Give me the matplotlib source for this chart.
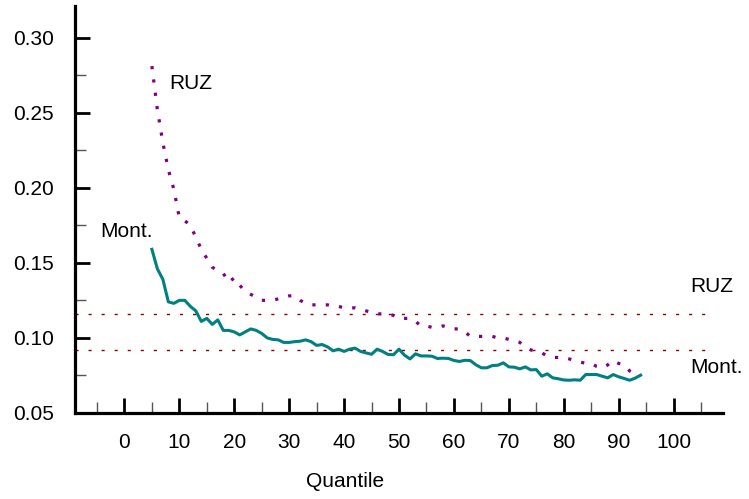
import numpy as np
import matplotlib
matplotlib.use("Agg")
import matplotlib.pyplot as plt
from matplotlib.ticker import MultipleLocator

plt.rcParams['font.family'] = ['Liberation Sans', 'DejaVu Sans']

quantile = list(range(5, 95))

mont = [0.159, 0.146, 0.139, 0.124, 0.123, 0.125, 0.125, 0.121, 0.118, 0.111,
        0.113, 0.109, 0.112, 0.105, 0.105, 0.104, 0.102, 0.104, 0.106, 0.105,
        0.103, 0.100, 0.099, 0.0987, 0.097, 0.097, 0.0975, 0.0978, 0.0987, 0.0975,
        0.095, 0.0956, 0.094, 0.0914, 0.0925, 0.091, 0.0925, 0.0932, 0.091, 0.090,
        0.0891, 0.0925, 0.091, 0.089, 0.0888, 0.0925, 0.0885, 0.086, 0.0894, 0.088,
        0.088, 0.0878, 0.0863, 0.0865, 0.0863, 0.085, 0.0843, 0.0851, 0.0849, 0.0821,
        0.0801, 0.0801, 0.0816, 0.0818, 0.0834, 0.0807, 0.0805, 0.0794, 0.0807, 0.0787,
        0.0789, 0.0745, 0.0761, 0.0734, 0.0728, 0.072, 0.0718, 0.0721, 0.0718, 0.0756,
        0.0756, 0.0756, 0.0745, 0.0734, 0.0756, 0.0741, 0.073, 0.0718, 0.0732, 0.0752]

ruz = [0.281, 0.252, 0.230, 0.212, 0.199, 0.180, 0.178, 0.175, 0.167, 0.159,
       0.153, 0.147, 0.145, 0.143, 0.137, 0.140, 0.135, 0.131, 0.129, 0.127,
       0.125, 0.125, 0.125, 0.126, 0.127, 0.128, 0.128, 0.125, 0.123, 0.122,
       0.122, 0.122, 0.122, 0.121, 0.121, 0.120, 0.120, 0.120, 0.119, 0.118,
       0.117, 0.116, 0.116, 0.116, 0.115, 0.113, 0.113, 0.113, 0.111, 0.108,
       0.108, 0.107, 0.107, 0.108, 0.107, 0.106, 0.106, 0.104, 0.101, 0.101,
       0.101, 0.101, 0.101, 0.100, 0.100, 0.099, 0.098, 0.097, 0.094, 0.092,
       0.091, 0.090, 0.088, 0.087, 0.087, 0.087, 0.086, 0.085, 0.084, 0.083,
       0.083, 0.081, 0.080, 0.082, 0.085, 0.083, 0.082, 0.078, 0.076, 0.075]

ref_ruz = 0.116
ref_mont = 0.092
xticks = [0, 10, 20, 30, 40, 50, 60, 70, 80, 90, 100]
yticks = [0.05, 0.10, 0.15, 0.20, 0.25, 0.30]

fig = plt.figure(figsize=(7.49, 4.99), dpi=100)
ax = fig.add_axes([75/749, 1 - 413/499, (723 - 75)/749, (413 - 6)/499])

ax.set_xlim(-9, 109)
ax.set_ylim(0.05, 0.321)

ax.hlines([ref_ruz, ref_mont], -9, 107, colors='#8B0000', lw=1.0,
          linestyles=[(0, (2.2, 7.2))])

ax.plot(quantile, ruz, color='#800080', lw=2.3, linestyle=(0, (1, 3.2)))
ax.plot(quantile, mont, color='#008080', lw=2.2)

fs = 15
ax.text(8.1, 0.2697, 'RUZ', fontsize=fs, ha='left', va='center')
ax.text(-4.4, 0.1706, 'Mont.', fontsize=fs, ha='left', va='center')
ax.text(103.0, 0.134, 'RUZ', fontsize=fs, ha='left', va='center', clip_on=False)
ax.text(103.0, 0.0803, 'Mont.', fontsize=fs, ha='left', va='center', clip_on=False)

for s in ['top', 'right']:
    ax.spines[s].set_visible(False)
for s in ['left', 'bottom']:
    ax.spines[s].set_linewidth(2.3)

ax.set_xticks(xticks)
ax.set_xticklabels([str(v) for v in xticks])
ax.set_yticks(yticks)
ax.set_yticklabels(['%.2f' % v for v in yticks])
ax.xaxis.set_minor_locator(MultipleLocator(5))
ax.yaxis.set_minor_locator(MultipleLocator(0.025))
ax.tick_params(which='major', direction='in', length=10.8, width=2.0,
               labelsize=fs, color='black')
ax.tick_params(axis='y', which='major', pad=15.0)
ax.tick_params(axis='x', which='major', pad=14.5)
ax.tick_params(which='minor', direction='in', length=8, width=1.0, color='#555555')

fig.text(345/749, 1 - 481.7/499, 'Quantile', fontsize=fs, ha='center', va='center')

fig.savefig('out.png', dpi=100)
